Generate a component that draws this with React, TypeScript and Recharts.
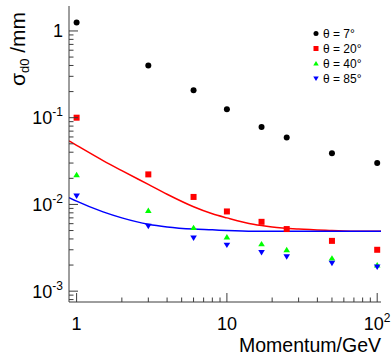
import React from "react";
import { ComposedChart, Scatter, Line, XAxis, YAxis, Legend } from "recharts";

const FONT = "'Liberation Sans', Arial, Helvetica, sans-serif";
const FRAME = "#3c3c3c";

// measured points
const momentum = [1, 3, 6, 10, 17, 25, 50, 100];
const sigma7 = [1.25, 0.4, 0.207, 0.125, 0.078, 0.059, 0.039, 0.03];
const sigma20 = [0.1, 0.0222, 0.0122, 0.0083, 0.0063, 0.0052, 0.0038, 0.003];
const sigma40 = [0.022, 0.0085, 0.0054, 0.0042, 0.0035, 0.003, 0.0024, 0.002];
const sigma85 = [0.0125, 0.0056, 0.0041, 0.0034, 0.0028, 0.0025, 0.0021, 0.0019];

// fitted curves
const fitMomentum = [0.89, 1, 1.5, 2, 3, 4, 6, 8, 10, 15, 20, 30, 50, 70, 106];
const fit20 = [0.054, 0.048, 0.032, 0.0245, 0.017, 0.0131, 0.0094, 0.0078, 0.007, 0.0059, 0.0055, 0.0052, 0.005, 0.0049, 0.0049];
const fit85 = [0.012, 0.0109, 0.0082, 0.007, 0.0059, 0.0055, 0.0052, 0.0051, 0.005, 0.0049, 0.0049, 0.0049, 0.0049, 0.0049, 0.0049];

const xTicks = [1, 2, 3, 4, 5, 6, 7, 8, 9, 10, 20, 30, 40, 50, 60, 70, 80, 90, 100];
const yTicks = [
  0.0008, 0.0009, 0.001, 0.002, 0.003, 0.004, 0.005, 0.006, 0.007, 0.008, 0.009,
  0.01, 0.02, 0.03, 0.04, 0.05, 0.06, 0.07, 0.08, 0.09,
  0.1, 0.2, 0.3, 0.4, 0.5, 0.6, 0.7, 0.8, 0.9, 1,
];
const xMajor = [1, 10, 100];
const xLabels = [["1", ""], ["10", ""], ["10", "2"]];
const yMajor = [0.001, 0.01, 0.1, 1];
const yLabels = [["10", "-3"], ["10", "-2"], ["10", "-1"], ["1", ""]];

const seriesNames = ["θ = 7°", "θ = 20°", "θ = 40°", "θ = 85°"];
const seriesColors = ["#000000", "#ff0000", "#00ff00", "#0000ff"];

const toPoints = (xs: number[], ys: number[]) => xs.map((p, i) => ({ p, s: ys[i] }));

const majorIndex = (list: number[], v: number) =>
  list.findIndex((m) => Math.abs(Math.log10(m) - Math.log10(v)) < 1e-6);

const marker = (kind: number, cx: number, cy: number, r: number, color: string) => {
  if (kind === 0) return <circle cx={cx} cy={cy} r={r} fill={color} />;
  if (kind === 1) return <rect x={cx - r} y={cy - r} width={2 * r} height={2 * r} fill={color} />;
  if (kind === 2)
    return <path d={`M${cx - r * 1.1},${cy + r * 0.8}L${cx + r * 1.1},${cy + r * 0.8}L${cx},${cy - r}Z`} fill={color} />;
  return <path d={`M${cx - r * 1.1},${cy - r * 0.8}L${cx + r * 1.1},${cy - r * 0.8}L${cx},${cy + r}Z`} fill={color} />;
};

function BottomTick(props: any) {
  const { x, y, payload } = props;
  const i = majorIndex(xMajor, payload.value);
  return (
    <g>
      <line x1={x} x2={x} y1={y} y2={y - (i >= 0 ? 9 : 4.5)} stroke={FRAME} />
      {i >= 0 && (
        <text x={x} y={y + 28} textAnchor="middle" fontSize={18} fontFamily={FONT} fill="#000">
          {xLabels[i][0]}
          {xLabels[i][1] && (
            <tspan dy={-8} fontSize={12}>
              {xLabels[i][1]}
            </tspan>
          )}
        </text>
      )}
    </g>
  );
}

function TopTick(props: any) {
  const { x, y, payload } = props;
  const major = majorIndex(xMajor, payload.value) >= 0;
  return <line x1={x} x2={x} y1={y} y2={y + (major ? 9 : 4.5)} stroke={FRAME} />;
}

function LeftTick(props: any) {
  const { x, y, payload } = props;
  const i = majorIndex(yMajor, payload.value);
  return (
    <g>
      <line x1={x} x2={x + (i >= 0 ? 9 : 4.5)} y1={y} y2={y} stroke={FRAME} />
      {i >= 0 && (
        <text x={x - 6} y={y + 6.5} textAnchor="end" fontSize={18} fontFamily={FONT} fill="#000">
          {yLabels[i][0]}
          {yLabels[i][1] && (
            <tspan dy={-8} fontSize={12}>
              {yLabels[i][1]}
            </tspan>
          )}
        </text>
      )}
    </g>
  );
}

function RightTick(props: any) {
  const { x, y, payload } = props;
  const major = majorIndex(yMajor, payload.value) >= 0;
  return <line x1={x} x2={x - (major ? 9 : 4.5)} y1={y} y2={y} stroke={FRAME} />;
}

function LegendBox() {
  return (
    <div style={{ fontFamily: FONT, fontSize: 12, color: "#000" }}>
      {seriesNames.map((name, k) => (
        <div key={name} style={{ display: "flex", alignItems: "center", height: 15 }}>
          <svg width={10} height={15}>
            {marker(k, 5, 7.5, 2.5, seriesColors[k])}
          </svg>
          <span style={{ marginLeft: 2, whiteSpace: "nowrap" }}>{name}</span>
        </div>
      ))}
    </div>
  );
}

const sigmaSets = [sigma7, sigma20, sigma40, sigma85];

export default function App() {
  return (
    <div style={{ position: "absolute", left: 0, top: 0 }}>
      <ComposedChart width={392} height={356} margin={{ top: 6, right: 11, bottom: 0, left: 0 }}>
        <XAxis
          xAxisId="b"
          dataKey="p"
          type="number"
          scale="log"
          domain={[0.89, 106]}
          allowDataOverflow
          ticks={xTicks}
          interval={0}
          height={54}
          tickSize={0}
          tickMargin={0}
          tickLine={false}
          axisLine={{ stroke: FRAME }}
          tick={<BottomTick />}
          label={{
            content: (lp: any) => (
              <text
                x={lp.viewBox.x + lp.viewBox.width}
                y={lp.viewBox.y + 49.7}
                textAnchor="end"
                fontSize={19.5}
                fontFamily={FONT}
                fill="#000"
              >
                Momentum/GeV
              </text>
            ),
          }}
        />
        <XAxis
          xAxisId="t"
          orientation="top"
          dataKey="p"
          type="number"
          scale="log"
          domain={[0.89, 106]}
          allowDataOverflow
          ticks={xTicks}
          interval={0}
          height={0}
          tickSize={0}
          tickMargin={0}
          tickLine={false}
          axisLine={{ stroke: FRAME }}
          tick={<TopTick />}
        />
        <YAxis
          yAxisId="l"
          dataKey="s"
          type="number"
          scale="log"
          domain={[0.00075, 1.94]}
          allowDataOverflow
          ticks={yTicks}
          interval={0}
          width={69}
          tickSize={0}
          tickMargin={0}
          tickLine={false}
          axisLine={{ stroke: FRAME }}
          tick={<LeftTick />}
          label={{
            content: (lp: any) => (
              <text
                transform={`translate(${lp.viewBox.x + 25},${lp.viewBox.y + 80}) rotate(-90)`}
                fontSize={21}
                fontFamily={FONT}
                fill="#000"
              >
                σ
                <tspan fontSize={13} dy={4}>
                  d0
                </tspan>
                <tspan dy={-4}> /mm</tspan>
              </text>
            ),
          }}
        />
        <YAxis
          yAxisId="r"
          orientation="right"
          dataKey="s"
          type="number"
          scale="log"
          domain={[0.00075, 1.94]}
          allowDataOverflow
          ticks={yTicks}
          interval={0}
          width={0}
          tickSize={0}
          tickMargin={0}
          tickLine={false}
          axisLine={{ stroke: FRAME }}
          tick={<RightTick />}
        />
        <Line
          xAxisId="b"
          yAxisId="l"
          data={toPoints(fitMomentum, fit20)}
          dataKey="s"
          type="monotone"
          stroke="#ff0000"
          strokeWidth={1.5}
          dot={false}
          isAnimationActive={false}
        />
        <Line
          xAxisId="b"
          yAxisId="l"
          data={toPoints(fitMomentum, fit85)}
          dataKey="s"
          type="monotone"
          stroke="#0000ff"
          strokeWidth={1.5}
          dot={false}
          isAnimationActive={false}
        />
        {sigmaSets.map((ys, k) => (
          <Scatter
            key={seriesNames[k]}
            name={seriesNames[k]}
            xAxisId="b"
            yAxisId="l"
            data={toPoints(momentum, ys)}
            dataKey="s"
            isAnimationActive={false}
            shape={(sp: any) => marker(k, sp.cx, sp.cy, 3, seriesColors[k])}
          />
        ))}
        <Legend
          layout="vertical"
          align="center"
          verticalAlign="middle"
          wrapperStyle={{ left: 311, top: 26, width: 80 }}
          content={() => <LegendBox />}
        />
      </ComposedChart>
    </div>
  );
}
